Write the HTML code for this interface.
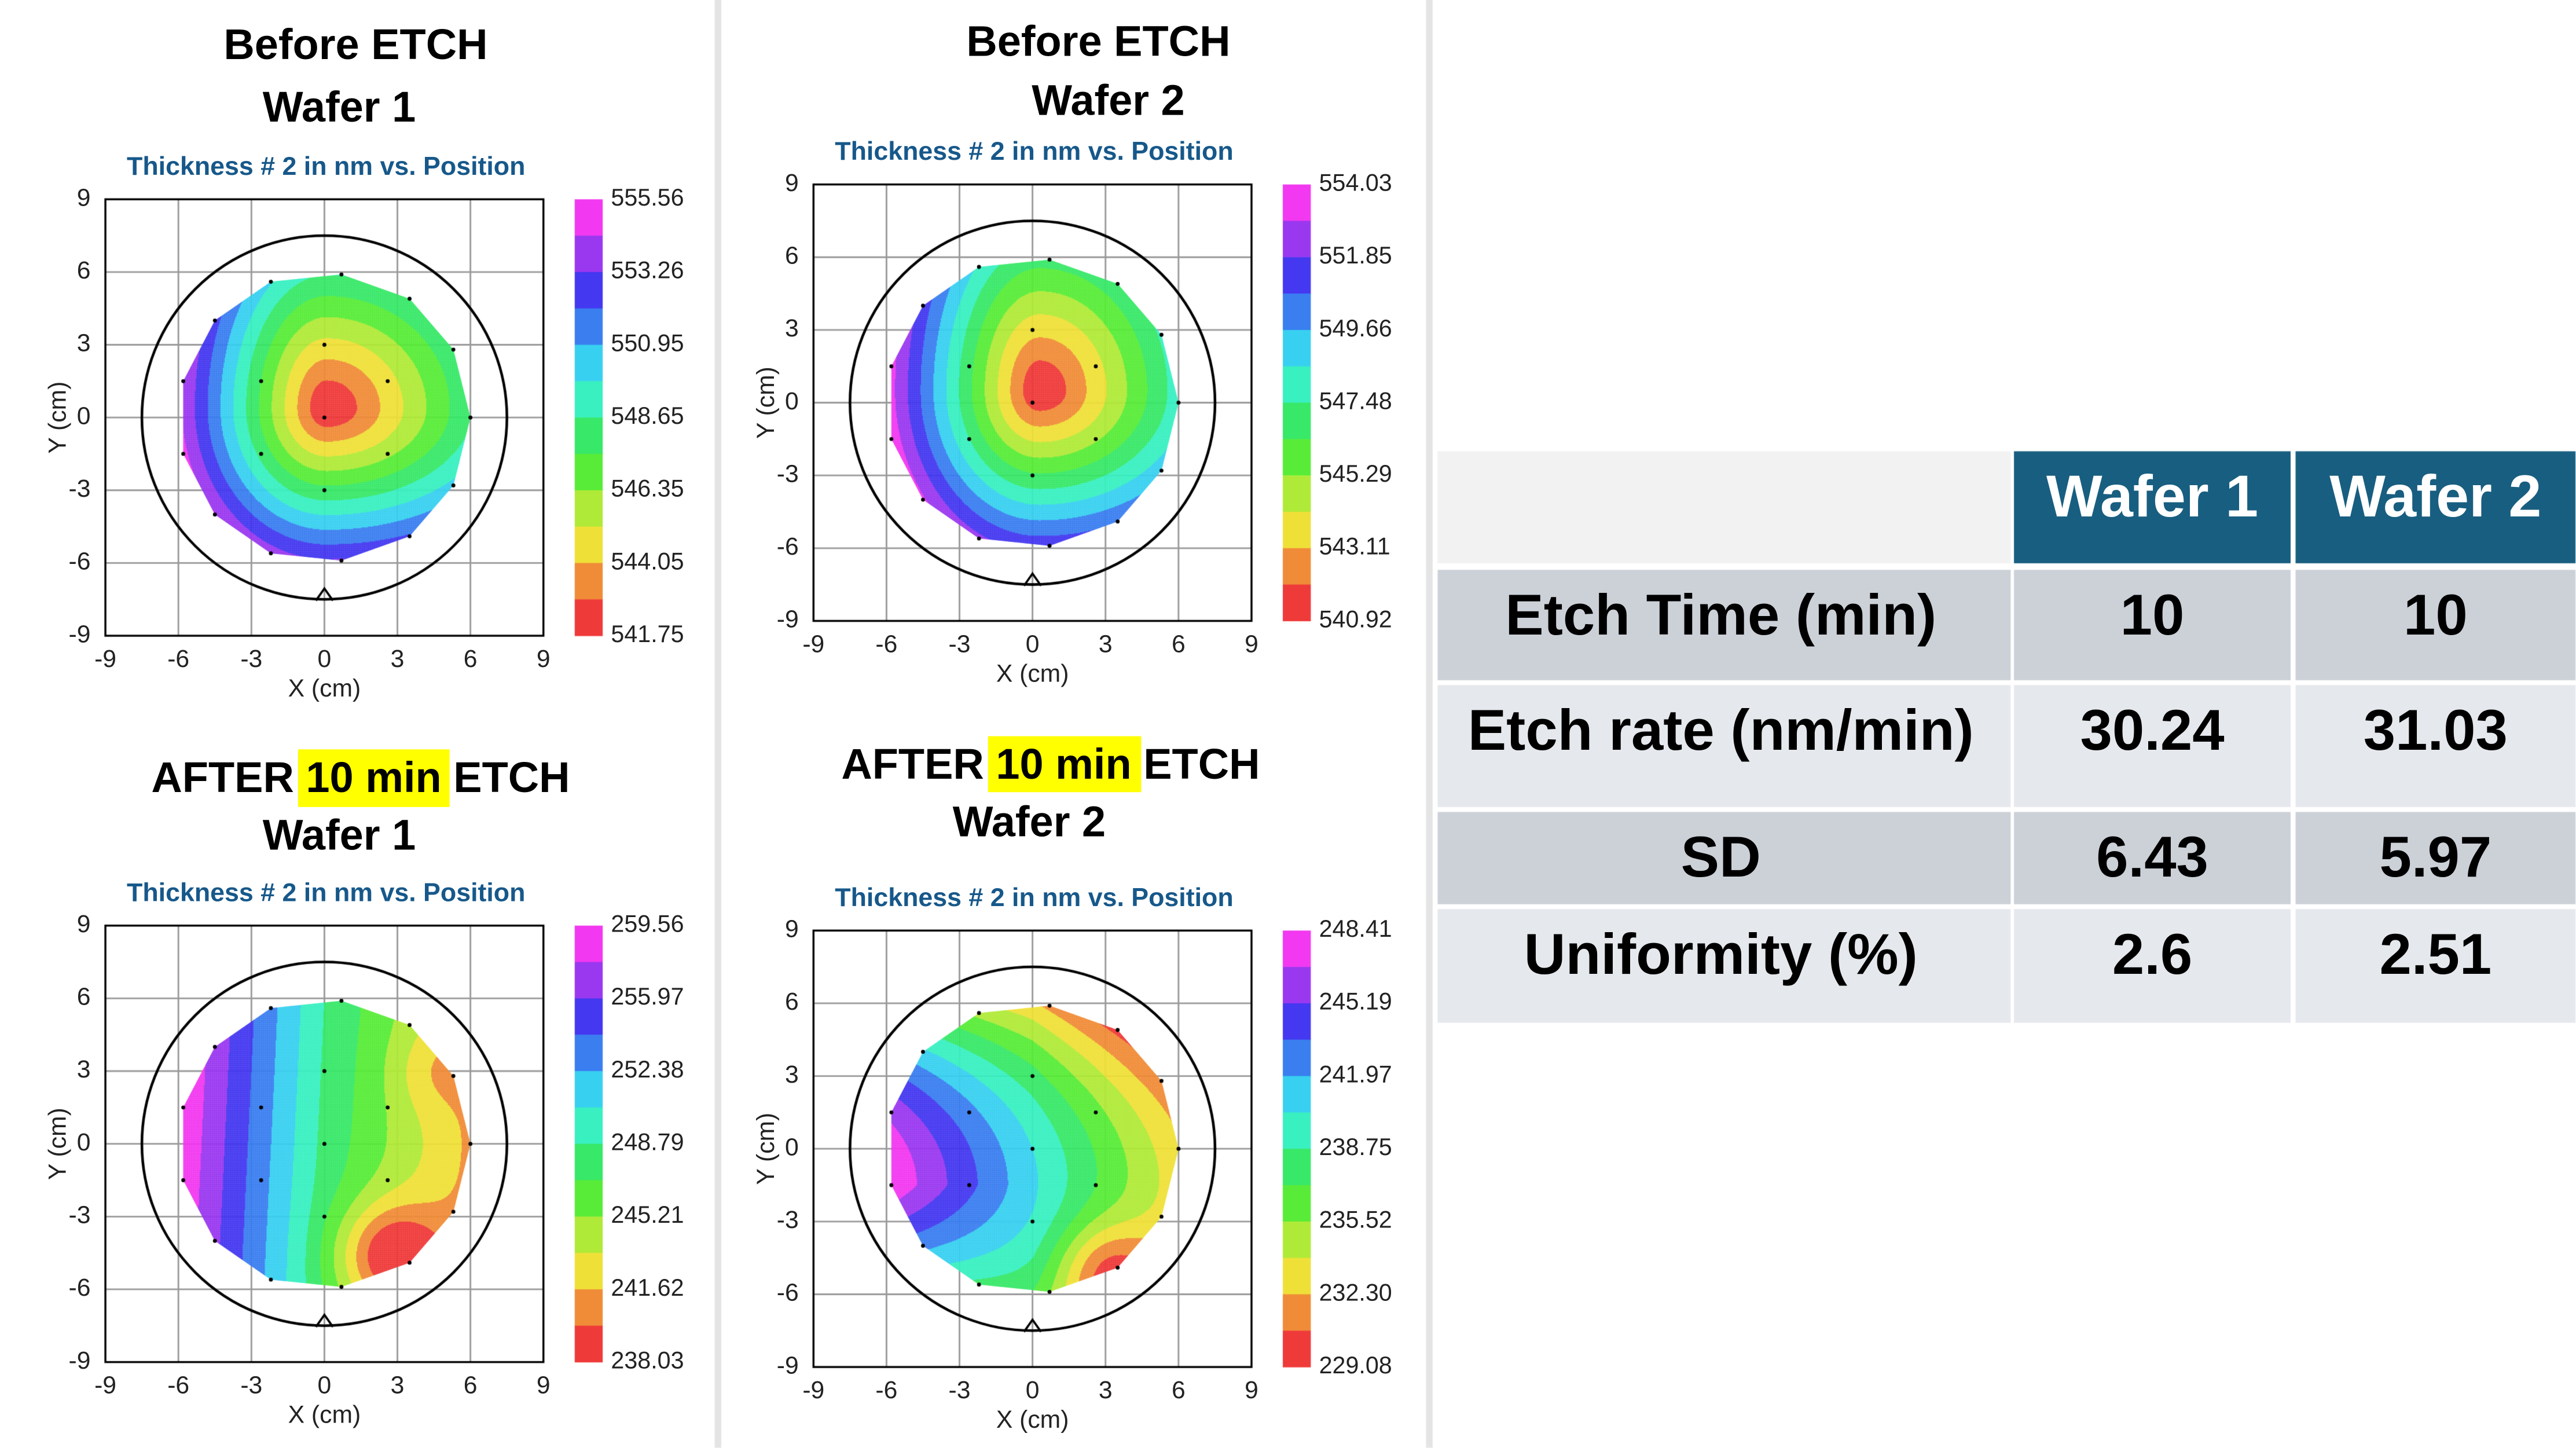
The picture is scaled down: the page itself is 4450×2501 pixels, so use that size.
<!DOCTYPE html>
<html><head><meta charset="utf-8">
<style>
html,body{margin:0;padding:0;background:#fff;}
#wrap{position:relative;width:4450px;height:2501px;overflow:hidden;}
canvas,svg{position:absolute;left:0;top:0;}
</style></head>
<body><div id="wrap">
<canvas id="c" width="4450" height="2501"></canvas>
<svg id="s" width="4450" height="2501" viewBox="0 0 1564.3 879.2" preserveAspectRatio="none" font-family="Liberation Sans, sans-serif"></svg>
</div>
<script>
var S=4450/1564.3;
var cols=['#ef3a3a','#f08c38','#efe038','#b0ea38','#58ec38','#38e868','#38f0c0','#38d0f0','#3a7ef0','#4438f0','#9a38f0','#f238f0'];
var hull=[[0.7,5.9],[3.5,4.9],[5.3,2.8],[6,0],[5.3,-2.8],[3.5,-4.9],[0.7,-5.9],[-2.2,-5.6],[-4.5,-4],[-5.8,-1.5],[-5.8,1.5],[-4.5,4],[-2.2,5.6]];
var inner=[[0,3],[2.6,1.5],[-2.6,1.5],[0,0],[2.6,-1.5],[-2.6,-1.5],[0,-3]];
function g(x,y,cx,cy,a,s){return a*Math.exp(-((x-cx)*(x-cx)+(y-cy)*(y-cy))/s);}
var plots=[
 {x0:64,y0:121,title:'Thickness # 2 in nm vs. Position',ty:102,cb:['555.56','553.26','550.95','548.65','546.35','544.05','541.75'],
  f:function(x,y){var cx=0.1,cy=0.4;var dx=(x-cx)*(x<cx?1.9:1.05),dy=(y-cy)*(y<cy?1.65:1.15);return Math.sqrt(dx*dx+dy*dy)-0.3;}},
 {x0:494,y0:112,title:'Thickness # 2 in nm vs. Position',ty:93,cb:['554.03','551.85','549.66','547.48','545.29','543.11','540.92'],
  f:function(x,y){var cx=0.3,cy=0.5;var dx=(x-cx)*(x<cx?1.9:1.2),dy=(y-cy)*(y<cy?1.55:1.05);return Math.sqrt(dx*dx+dy*dy)-0.3;}},
 {x0:64,y0:562,title:'Thickness # 2 in nm vs. Position',ty:543,cb:['259.56','255.97','252.38','248.79','245.21','241.62','238.03'],
  f:function(x,y){var v=x<0?12-1.05*(x+6):5.7-0.65*x;return v+0.05*y-g(x,y,2.7,-4.6,4,4.5)-g(x,y,4.5,3,1,3);}},
 {x0:494,y0:565,title:'Thickness # 2 in nm vs. Position',ty:546,cb:['248.41','245.19','241.97','238.75','235.52','232.30','229.08'],
  f:function(x,y){var h;if(y>-1.5){h=(0.09+0.04*Math.max(0,-x)/6)*(y+1.5)*(y+1.5);}else{h=0.1*(y+1.5)*(y+1.5)+0.17*Math.max(0,-x)*(-y-1.5);}
   return 11.5-0.8*(x+6)-h-g(x,y,3,-5,3,4)+0.5;}}
];
var c=document.getElementById('c').getContext('2d');
c.scale(S,S);
var W=266,H=265;
plots.forEach(function(p){
 function px(x){return p.x0+(x+9)/18*W;} function py(y){return p.y0+(9-y)/18*H;}
 c.strokeStyle='#999';c.lineWidth=1;
 for(var v=-6;v<=6;v+=3){c.beginPath();c.moveTo(px(v),p.y0);c.lineTo(px(v),p.y0+H);c.stroke();
  c.beginPath();c.moveTo(p.x0,py(v));c.lineTo(p.x0+W,py(v));c.stroke();}
 c.save();c.beginPath();hull.forEach(function(h,i){i?c.lineTo(px(h[0]),py(h[1])):c.moveTo(px(h[0]),py(h[1]));});c.closePath();c.clip();
 var st=0.5;
 for(var X=px(-6.2);X<px(6.2);X+=st){for(var Y=py(6.2);Y<py(-6.2);Y+=st){
  var x=(X+st/2-p.x0)/W*18-9,y=9-(Y+st/2-p.y0)/H*18;
  var b=Math.floor(p.f(x,y));if(b<0)b=0;if(b>11)b=11;c.fillStyle=cols[b];c.fillRect(X,Y,st+0.1,st+0.1);}}
 c.restore();
 c.strokeStyle='#000';c.lineWidth=1.2;c.strokeRect(p.x0,p.y0,W,H);
 c.lineWidth=1.6;c.beginPath();c.ellipse(px(0),py(0),7.5/18*W,7.5/18*H,0,0,Math.PI*2);c.stroke();
 c.lineWidth=1.3;c.beginPath();c.moveTo(px(-0.35),py(-7.55));c.lineTo(px(0),py(-7.05));c.lineTo(px(0.35),py(-7.55));c.stroke();
 c.fillStyle='#000';hull.concat(inner).forEach(function(h){c.beginPath();c.arc(px(h[0]),py(h[1]),1.2,0,Math.PI*2);c.fill();});
 var cbx=p.x0+285;for(var i=0;i<12;i++){c.fillStyle=cols[11-i];c.fillRect(cbx,p.y0+i*H/12,17,H/12+0.2);}
});
c.fillStyle='#e4e4e4';c.fillRect(434,0,4,879);c.fillRect(866,0,4,879);
c.fillStyle='#f2f2f2';c.fillRect(873,274,348,68);
c.fillStyle='#185e80';c.fillRect(1223,274,168,68);c.fillRect(1394,274,170,68);
var rows=[[346,413,'#ccd1d8'],[416,490,'#e5e8ec'],[493,549,'#ccd1d8'],[552,621,'#e5e8ec']];
rows.forEach(function(r){c.fillStyle=r[2];c.fillRect(873,r[0],348,r[1]-r[0]);c.fillRect(1223,r[0],168,r[1]-r[0]);c.fillRect(1394,r[0],170,r[1]-r[0]);});

var s='';
function T(x,y,t,o){o=o||{};s+='<text x="'+x+'" y="'+y+'" font-size="'+(o.fs||14)+'" text-anchor="'+(o.a||'middle')+'" dominant-baseline="'+(o.db||'middle')+'" fill="'+(o.fill||'#222')+'"'+(o.fw?' font-weight="bold"':'')+(o.tl?' textLength="'+o.tl+'" lengthAdjust="spacingAndGlyphs"':'')+(o.tr?' transform="'+o.tr+'"':'')+'>'+t+'</text>';}
plots.forEach(function(p){
 function px(x){return p.x0+(x+9)/18*W;} function py(y){return p.y0+(9-y)/18*H;}
 for(var v=-9;v<=9;v+=3){T(px(v),p.y0+H+15,v,{fs:15});T(p.x0-9,py(v),v,{a:'end',fs:15});}
 T(p.x0+W/2,p.y0+H+33,'X (cm)',{fs:15});
 T(p.x0-28,p.y0+H/2,'Y (cm)',{fs:15,tr:'rotate(-90 '+(p.x0-28)+' '+(p.y0+H/2)+')'});
 T(p.x0+W/2+1,p.ty,p.title,{fs:15.5,fw:1,fill:'#17588a',tl:242});
 p.cb.forEach(function(l,i){T(p.x0+307,p.y0+i*H/6,l,{a:'start',fs:14.5});});
});
s+='<rect x="181" y="455" width="92" height="35" fill="#ffff00"/><rect x="600" y="447" width="93" height="34" fill="#ffff00"/>';
T(216,29,'Before ETCH',{fs:26,fw:1,fill:'#000'});T(206,67,'Wafer 1',{fs:26,fw:1,fill:'#000'});
T(667,27,'Before ETCH',{fs:26,fw:1,fill:'#000'});T(673,63,'Wafer 2',{fs:26,fw:1,fill:'#000'});
T(219,474,'AFTER 10 min ETCH',{fs:26,fw:1,fill:'#000'});T(206,509,'Wafer 1',{fs:26,fw:1,fill:'#000'});
T(638,466,'AFTER 10 min ETCH',{fs:26,fw:1,fill:'#000'});T(625,501,'Wafer 2',{fs:26,fw:1,fill:'#000'});
T(1307,304,'Wafer 1',{fs:36,fw:1,fill:'#fff'});T(1479,304,'Wafer 2',{fs:36,fw:1,fill:'#fff'});
var tr=[['Etch Time (min)','10','10',376],['Etch rate (nm/min)','30.24','31.03',446],['SD','6.43','5.97',523],['Uniformity (%)','2.6','2.51',582]];
tr.forEach(function(r){T(1045,r[3],r[0],{fs:35,fw:1,fill:'#000'});T(1307,r[3],r[1],{fs:35,fw:1,fill:'#000'});T(1479,r[3],r[2],{fs:35,fw:1,fill:'#000'});});
document.getElementById('s').innerHTML=s;
</script>
</body></html>
